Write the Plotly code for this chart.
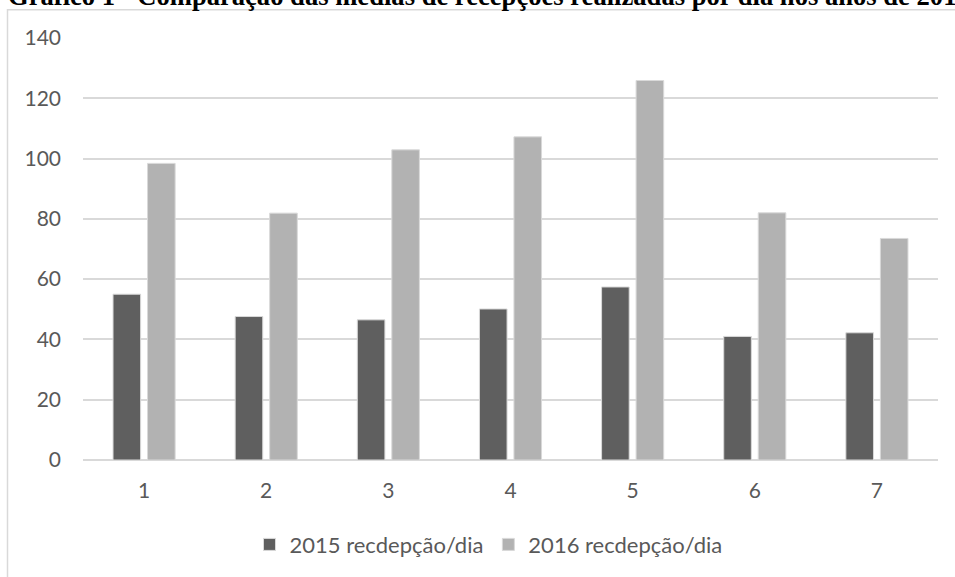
import plotly.graph_objects as go

days = ["1", "2", "3", "4", "5", "6", "7"]
recep_2015 = [55.0, 47.6, 46.5, 50.1, 57.4, 41.0, 42.2]
recep_2016 = [98.4, 81.9, 102.9, 107.2, 125.9, 82.0, 73.5]
series_names = ["2015 recdepção/dia", "2016 recdepção/dia"]
y_ticks = [0, 20, 40, 60, 80, 100, 120, 140]
title_text = "Gráfico 1 - Comparação das médias de recepções realizadas por dia nos anos de 2015 e 2016"

W, H = 955, 577
ML, MR, MT, MB = 83, 17, 38, 115
PW, PH = W - ML - MR, H - MT - MB


def px(x):
    return (x - ML) / PW


def py(y):
    return (H - MB - y) / PH


tick_font = dict(family="Lato, Open Sans, sans-serif", size=21, color="#595959")
legend_font = dict(family="Lato, Open Sans, sans-serif", size=22, color="#595959")

fig = go.Figure()
fig.add_trace(go.Bar(
    x=days, y=recep_2015, name=series_names[0],
    marker=dict(color="#5f5f5f", line=dict(color="#d9d9d9", width=1)),
))
fig.add_trace(go.Bar(
    x=days, y=recep_2016, name=series_names[1],
    marker=dict(color="#b2b2b2", line=dict(color="#d9d9d9", width=1)),
))

fig.update_layout(
    width=W, height=H,
    margin=dict(l=ML, r=MR, t=MT, b=MB, pad=0),
    paper_bgcolor="white", plot_bgcolor="white",
    barmode="group", bargap=0.435, bargroupgap=0.2,
    showlegend=True,
    legend=dict(
        orientation="h", x=0.5 - 22 / PW, xanchor="center", y=py(547), yanchor="middle",
        font=legend_font, traceorder="normal", itemclick=False,
    ),
    xaxis=dict(
        type="category", showgrid=False, zeroline=False, showline=False,
        ticks="", tickfont=tick_font, ticklabelstandoff=16,
    ),
    yaxis=dict(
        range=[0, 140], tickvals=y_ticks, showgrid=True, gridcolor="#d9d9d9",
        gridwidth=1.5, zeroline=True, zerolinecolor="#d9d9d9", zerolinewidth=1.5,
        showline=False, ticks="", tickfont=tick_font, ticklabelstandoff=21,
    ),
    font=tick_font,
)

# outer chart border (partially visible)
fig.add_shape(
    type="rect", xref="paper", yref="paper",
    x0=px(7.5), x1=px(W + 10), y0=py(H + 10), y1=py(9.5),
    line=dict(color="#d9d9d9", width=1.5), fillcolor="rgba(0,0,0,0)", layer="below",
)

# clipped title above the chart
fig.add_annotation(
    text="<b>" + title_text + "</b>", xref="paper", yref="paper",
    x=px(6), xanchor="left", y=py(-4.5), yanchor="middle", showarrow=False,
    font=dict(family="Liberation Serif, Times New Roman, serif", size=26.6, color="black"),
)

fig.write_html("out.html")
